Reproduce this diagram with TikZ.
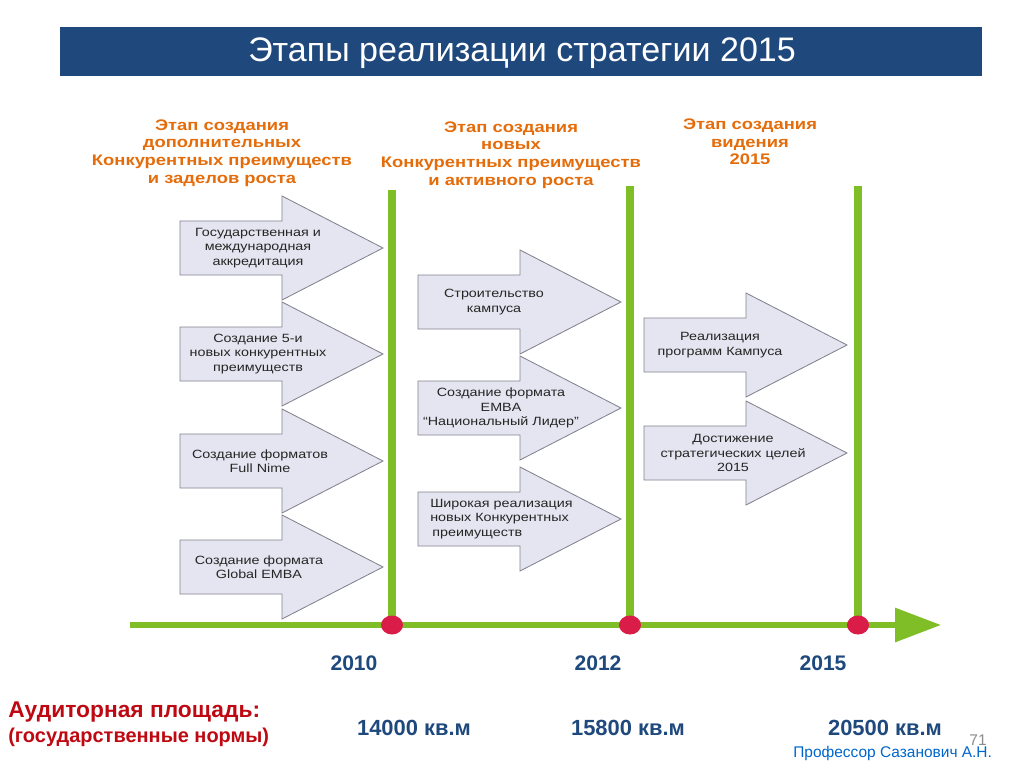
\documentclass[tikz,border=0pt]{standalone}
\usepackage{fontspec}
\setsansfont{Liberation Sans}
\newfontfamily\widesans[FakeStretch=1.2]{Liberation Sans}
\usetikzlibrary{shapes.geometric}
\usetikzlibrary{positioning}
\usetikzlibrary{arrows.meta}
\definecolor{titleblue}{RGB}{31,73,125}
\definecolor{stageorange}{RGB}{228,108,10}
\definecolor{stagegreen}{RGB}{128,190,40}
\definecolor{dotred}{RGB}{218,28,72}
\definecolor{arrowfill}{RGB}{228,229,240}
\definecolor{arrowdraw}{RGB}{130,130,142}
\definecolor{areared}{RGB}{190,8,18}
\definecolor{profblue}{RGB}{0,102,204}
\tikzset{
    titlebar/.style = {fill=titleblue,draw=none},
    titletext/.style = {text=white,anchor=base,font=\sffamily\fontsize{24.2}{28}\selectfont},
    stagehead/.style = {align=center,text=stageorange,inner sep=0pt,font=\widesans\bfseries\fontsize{10.9}{12.6}\selectfont},
    arrowbox/.style = {fill=arrowfill,draw=arrowdraw,line width=0.6pt,line join=miter},
    arrowtext/.style = {align=center,text=black!85,inner sep=0pt,font=\widesans\fontsize{8.5}{10.3}\selectfont},
    stageline/.style = {line width=5pt,stagegreen},
    axisline/.style = {line width=4pt,stagegreen,-{Triangle[length=1.15cm,width=0.83cm]}},
    yeardot/.style = {ellipse,fill=dotred,draw=none,inner sep=0pt,minimum width=0.55cm,minimum height=0.475cm},
    yeartext/.style = {anchor=base,text=titleblue,font=\sffamily\bfseries\fontsize{15}{18}\selectfont},
    areatext/.style = {anchor=base,text=titleblue,font=\sffamily\bfseries\fontsize{15.6}{18}\selectfont},
    normtext/.style = {anchor=base west,inner sep=0pt,text=areared,font=\sffamily\bfseries\fontsize{#1}{18}\selectfont}
}
% #1 name, #2 left x, #3 centre y, #4 text x, #5 text
\newcommand{\stagearrow}[5]{%
  \draw[arrowbox] (#2,#3-27) -- ++(102,0) -- ++(0,-25) -- ++(101,52) -- ++(-101,52) -- ++(0,-25) -- ++(-102,0) -- cycle;
  \node[arrowtext] (#1) at (#4,#3) {#5};
}

\begin{document}
\begin{tikzpicture}[x=0.025cm,y=-0.025cm]
  \useasboundingbox (0,0) rectangle (1024,767);
  \fill[titlebar] (60,27) rectangle (982,76);
  \node[titletext] (title) at (522,62) {Этапы реализации стратегии 2015};

  % stage headings
  \node[stagehead] (head1) at (222,153) {Этап создания\\дополнительных\\Конкурентных преимуществ\\и заделов роста};
  \node[stagehead] (head2) at (511,155) {Этап создания\\новых\\Конкурентных преимуществ\\и активного роста};
  \node[stagehead] (head3) at (750,142) {Этап создания\\видения\\2015};

  % time axis
  \coordinate (axstart) at (130,625);
  \coordinate (axend) at (941,625);
  \coordinate (top2010) at (392,190);
  \coordinate (top2012) at (630,186);
  \coordinate (top2015) at (858,186);
  \draw[axisline] (axstart) -- (axend);
  \draw[stageline] (top2010) -- (392,625);
  \draw[stageline] (top2012) -- (630,625);
  \draw[stageline] (top2015) -- (858,625);
  \node[yeardot] (d2010) at (392,625) {};
  \node[yeardot] (d2012) at (630,625) {};
  \node[yeardot] (d2015) at (858,625) {};

  % first stage
  \stagearrow{accr}{180}{248}{258}{Государственная и\\международная\\аккредитация}
  \stagearrow{five}{180}{354}{258}{Создание 5-и\\новых конкурентных\\преимуществ}
  \stagearrow{nime}{180}{461}{260}{Создание форматов\\Full Nime}
  \stagearrow{gemba}{180}{567}{259}{Создание формата\\Global EMBA}
  % second stage
  \stagearrow{campus}{418}{302}{494}{Строительство\\кампуса}
  \stagearrow{nemba}{418}{408}{501}{Создание формата\\EMBA\\“Национальный Лидер”}
  \draw[arrowbox] (418,519-27) -- ++(102,0) -- ++(0,-25) -- ++(101,52) -- ++(-101,52) -- ++(0,-25) -- ++(-102,0) -- cycle;
  \node[arrowtext,align=left,anchor=west] (wide) at (430,519) {Широкая реализация\\новых Конкурентных\\\,преимуществ};
  % third stage
  \stagearrow{progs}{644}{345}{720}{Реализация\\программ Кампуса}
  \stagearrow{goals}{644}{453}{733}{Достижение\\стратегических целей\\2015}

  % years and areas
  \node[yeartext] (y2010) at (354,670) {2010};
  \node[yeartext] (y2012) at (598,670) {2012};
  \node[yeartext] (y2015) at (823,670) {2015};
  \node[normtext=16.2] (norm1) at (8,717) {Аудиторная площадь:};
  \node[normtext=14.2] (norm2) at (8,742) {(государственные нормы)};
  \node[areatext] (a2010) at (414,735) {14000 кв.м};
  \node[areatext] (a2012) at (628,735) {15800 кв.м};
  \node[areatext] (a2015) at (885,735) {20500 кв.м};
  \node[anchor=base,text=black!45,font=\sffamily\fontsize{11}{13}\selectfont] (page) at (978,745) {71};
  \node[anchor=base west,inner sep=0pt,text=profblue,font=\sffamily\fontsize{11}{13}\selectfont] (prof) at (793,757) {Профессор Сазанович А.Н.};
\end{tikzpicture}
\end{document}
